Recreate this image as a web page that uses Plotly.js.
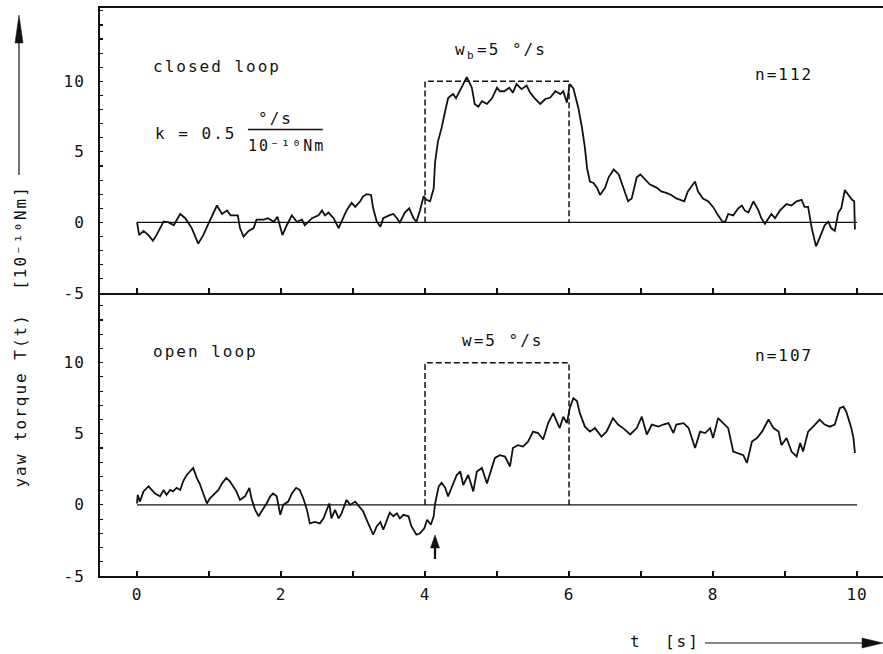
<!DOCTYPE html>
<html>
<head>
<meta charset="utf-8">
<script src="https://cdn.plot.ly/plotly-3.0.1.min.js"></script>
<style>
  html, body { margin: 0; padding: 0; background: #fff; }
  #chart { width: 883px; height: 654px; }
  .annotation-text { letter-spacing: 2px; }
  .xtick text, .ytick text, .x2tick text, .y2tick text { letter-spacing: 1px; }
</style>
</head>
<body>
<div id="chart"></div>
<script>
// ---- data ----
const tClosed = [
  0, 0.03, 0.09, 0.16, 0.22, 0.27, 0.37, 0.44, 0.51, 0.6,
  0.67, 0.76, 0.85, 0.92, 1.0, 1.11, 1.18, 1.25, 1.3, 1.4,
  1.43, 1.48, 1.55, 1.62, 1.66, 1.76, 1.82, 1.9, 1.95, 2.02,
  2.08, 2.15, 2.22, 2.29, 2.33, 2.43, 2.52, 2.57, 2.61, 2.66,
  2.73, 2.8, 2.84, 2.91, 2.98, 3.03, 3.1, 3.14, 3.19, 3.25,
  3.28, 3.33, 3.38, 3.42, 3.5, 3.56, 3.61, 3.65, 3.72, 3.78,
  3.84, 3.88, 3.93, 3.98, 4.02, 4.07, 4.12, 4.14, 4.18, 4.23,
  4.28, 4.32, 4.35, 4.39, 4.43, 4.51, 4.58, 4.65, 4.69, 4.74,
  4.79, 4.86, 4.93, 5.0, 5.04, 5.1, 5.17, 5.22, 5.27, 5.34,
  5.41, 5.46, 5.53, 5.6, 5.67, 5.74, 5.81, 5.88, 5.92, 5.97,
  6.01, 6.06, 6.13, 6.18, 6.22, 6.25, 6.29, 6.34, 6.39, 6.43,
  6.5, 6.55, 6.62, 6.69, 6.76, 6.82, 6.87, 6.94, 6.99, 7.03,
  7.12, 7.22, 7.28, 7.35, 7.42, 7.49, 7.56, 7.6, 7.65, 7.75,
  7.79, 7.86, 7.93, 8.0, 8.07, 8.13, 8.17, 8.21, 8.28, 8.35,
  8.4, 8.44, 8.49, 8.56, 8.63, 8.67, 8.72, 8.77, 8.81, 8.86,
  8.93, 9.02, 9.09, 9.16, 9.23, 9.27, 9.32, 9.37, 9.43, 9.48,
  9.55, 9.6, 9.64, 9.69, 9.74, 9.78, 9.83, 9.88, 9.93, 9.96, 9.97
];
const vClosed = [
  0, -0.9, -0.6, -0.9, -1.3, -0.9, 0.07, 0, -0.2, 0.6,
  0.3, -0.4, -1.5, -0.9, 0, 1.2, 0.6, 0.85, 0.5, 0.5,
  -0.4, -1.0, -0.6, -0.4, 0.2, 0.2, 0.3, 0.05, 0.4, -0.9,
  -0.2, 0.5, 0.05, 0.2, -0.2, 0.3, 0.5, 0.85, 0.5, 0.7,
  0.3, -0.4, 0.05, 0.85, 1.4, 1.1, 1.5, 1.85, 2.0, 1.95,
  1.0, 0.05, -0.3, 0.3, 0.5, 0.6, 0.3, 0, 0.7, 1.0,
  0.3, 0.05, 0.85, 1.85, 1.6, 1.5, 2.4, 4.3, 5.75, 6.7,
  7.9, 8.8, 8.95, 9.1, 8.8, 9.55, 10.3, 9.55, 8.4, 8.2,
  8.6, 8.4, 8.8, 9.55, 9.3, 9.3, 9.55, 9.2, 9.8, 9.45,
  9.7, 9.2, 8.75, 8.4, 8.75, 8.85, 9.3, 9.1, 9.3, 8.5,
  9.8, 9.5, 8.1, 6.7, 5.3, 3.85, 2.9, 2.8, 2.45, 1.95,
  2.45, 3.2, 3.75, 3.4, 2.45, 1.5, 1.7, 3.2, 3.4, 3.2,
  2.7, 2.45, 2.2, 2.1, 1.95, 1.7, 1.6, 1.5, 2.2, 2.9,
  2.2, 1.7, 1.5, 1.1, 0.5, 0.05, 0.05, 0.6, 0.5, 1.0,
  1.2, 0.85, 0.7, 1.5, 0.85, 0.3, -0.1, 0.3, 0.6, 0.3,
  0.85, 1.3, 1.2, 1.5, 1.6, 1.1, 1.1, -0.4, -1.7, -1.1,
  -0.2, 0.05, -0.4, -0.6, 0.7, 1.0, 2.3, 1.95, 1.6, 1.5, -0.5
];
const tOpen = [
  0, 0.01, 0.04, 0.09, 0.16, 0.2, 0.25, 0.32, 0.37, 0.41,
  0.46, 0.5, 0.55, 0.6, 0.64, 0.69, 0.74, 0.78, 0.83, 0.87,
  0.92, 0.97, 1.01, 1.08, 1.13, 1.18, 1.24, 1.29, 1.34, 1.38,
  1.43, 1.5, 1.56, 1.59, 1.64, 1.69, 1.73, 1.8, 1.85, 1.89,
  1.94, 1.99, 2.03, 2.1, 2.15, 2.21, 2.26, 2.31, 2.36, 2.4,
  2.47, 2.54, 2.59, 2.63, 2.67, 2.7, 2.75, 2.8, 2.84, 2.91,
  2.96, 3.03, 3.07, 3.14, 3.19, 3.24, 3.28, 3.33, 3.38, 3.42,
  3.47, 3.51, 3.56, 3.61, 3.65, 3.7, 3.77, 3.81, 3.88, 3.93,
  3.99, 4.03, 4.08, 4.12, 4.14, 4.19, 4.23, 4.28, 4.32, 4.37,
  4.44, 4.49, 4.53, 4.6, 4.67, 4.72, 4.79, 4.86, 4.9, 4.97,
  5.04, 5.11, 5.18, 5.22, 5.29, 5.36, 5.43, 5.5, 5.57, 5.64,
  5.71, 5.78, 5.83, 5.87, 5.92, 5.97, 6.01, 6.06, 6.11, 6.15,
  6.22, 6.29, 6.36, 6.45, 6.52, 6.61, 6.68, 6.75, 6.85, 6.94,
  7.01, 7.08, 7.15, 7.24, 7.31, 7.38, 7.45, 7.49, 7.59, 7.66,
  7.75, 7.82, 7.89, 7.96, 8.0, 8.07, 8.14, 8.21, 8.28, 8.35,
  8.42, 8.47, 8.54, 8.61, 8.68, 8.77, 8.84, 8.91, 8.95, 9.02,
  9.09, 9.16, 9.21, 9.25, 9.32, 9.39, 9.48, 9.55, 9.62, 9.69,
  9.76, 9.81, 9.85, 9.92, 9.95, 9.97
];
const vOpen = [
  0.1, 0.7, 0.23, 0.95, 1.3, 1.05, 0.8, 0.6, 1.05, 0.7,
  1.05, 0.95, 1.2, 1.05, 1.65, 2.1, 2.35, 2.6, 1.9, 1.5,
  0.8, 0.1, 0.45, 0.8, 1.05, 1.5, 1.9, 1.65, 1.3, 0.95,
  0.35, 0.6, 1.2, 0.45, -0.35, -0.8, -0.45, 0.1, 0.6, 0.8,
  0.6, -0.7, 0, 0.23, 0.8, 1.2, 1.05, 0.45, -0.35, -1.3,
  -1.2, -1.3, -0.95, -0.35, 0.1, -0.95, -0.35, -0.95, -0.6, 0.35,
  0, 0.23, 0, -0.45, -1.05, -1.65, -2.1, -1.5, -1.2, -1.75,
  -1.05, -0.55, -0.8, -0.6, -0.95, -0.7, -0.8, -1.5, -2.1, -2.0,
  -1.65, -1.05, -1.4, -0.8, 0.1, 1.3, 1.55, 1.2, 0.6, 1.2,
  2.1, 2.35, 1.4, 2.1, 0.95, 2.35, 2.6, 1.5, 2.1, 3.3,
  3.5, 3.4, 2.7, 4.0, 4.2, 4.1, 4.45, 5.15, 5.05, 4.6,
  5.75, 6.45, 5.85, 5.4, 6.2, 5.75, 6.8, 7.5, 7.3, 6.45,
  5.5, 5.15, 5.4, 4.8, 5.15, 6.1, 5.65, 5.4, 4.95, 5.4,
  6.2, 4.95, 5.65, 5.5, 5.65, 5.75, 5.05, 5.65, 5.75, 5.4,
  4.0, 5.15, 5.05, 5.4, 4.7, 6.1, 5.75, 5.4, 3.75, 3.65,
  3.5, 2.95, 4.45, 4.7, 5.15, 6.0, 5.4, 5.15, 4.2, 4.7,
  3.75, 3.4, 4.35, 3.75, 5.15, 5.5, 6.0, 5.65, 5.5, 5.65,
  6.8, 6.9, 6.55, 5.4, 4.7, 3.65
];
// stimulus window (dashed box) and base line
const stimT = [4, 4, 6, 6];
const stimV = [0, 10, 10, 0];
const zeroT = [0, 10];
const zeroV = [0, 0];
// ticks
const xTickVals = [0, 2, 4, 6, 8, 10];
const xTickText = ['0', '2', '4', '6', '8', '10'];
const yTickVals = [-5, 0, 5, 10];
const yTickText = ['-5', '0', '5', '10'];

// ---- chart ----
const INK = '#111111';
const FONT = 'DejaVu Sans Mono, Liberation Mono, monospace';

function lineTrace(x, y, xa, ya, width, dash) {
  return { type: 'scatter', mode: 'lines', x: x, y: y, xaxis: xa, yaxis: ya,
           line: { color: INK, width: width, dash: dash || 'solid' },
           hoverinfo: 'skip', showlegend: false };
}

const data = [
  lineTrace(zeroT, zeroV, 'x', 'y', 1.2),
  lineTrace(stimT, stimV, 'x', 'y', 1.5, '6px,3px'),
  lineTrace(tClosed, vClosed, 'x', 'y', 1.8),
  lineTrace(zeroT, zeroV, 'x2', 'y2', 1.2),
  lineTrace(stimT, stimV, 'x2', 'y2', 1.5, '6px,3px'),
  lineTrace(tOpen, vOpen, 'x2', 'y2', 1.8)
];

const xBase = {
  range: [-0.514, 10.36], showgrid: false, zeroline: false,
  showline: true, linecolor: INK, linewidth: 2,
  ticks: 'inside', ticklen: 5, tickwidth: 1.5, tickcolor: INK,
  tickmode: 'array', tickvals: xTickVals, ticktext: xTickText,
  minor: { ticks: 'inside', dtick: 1, tick0: 0, ticklen: 5, tickwidth: 1.5, tickcolor: INK, showgrid: false },
  tickfont: { family: FONT, size: 16, color: INK }, ticklabelstandoff: 3,
  fixedrange: true
};
const yBase = {
  showgrid: false, zeroline: false,
  showline: true, linecolor: INK, linewidth: 2,
  ticks: 'inside', ticklen: 3, tickwidth: 1.2, tickcolor: INK,
  tickmode: 'array', tickvals: yTickVals, ticktext: yTickText,
  minor: { ticks: 'inside', dtick: 1, tick0: 0, ticklen: 3, tickwidth: 1.2, tickcolor: INK, showgrid: false },
  tickfont: { family: FONT, size: 16, color: INK }, ticklabelstandoff: 10,
  fixedrange: true
};

const split = 0.4983;
const ann = (o) => Object.assign({ showarrow: false, font: { family: FONT, size: 16, color: INK },
                                   xanchor: 'left', yanchor: 'middle' }, o);

// pixel -> paper helpers for the decorative arrows
const PX = (px) => (px - 100) / 783;
const PY = (py) => (576 - py) / 568;
const tri = (x1, y1, x2, y2, x3, y3) =>
  'M' + PX(x1) + ',' + PY(y1) + ' L' + PX(x2) + ',' + PY(y2) + ' L' + PX(x3) + ',' + PY(y3) + ' Z';

const layout = {
  width: 883, height: 654,
  margin: { l: 100, r: 0, t: 8, b: 78 },
  paper_bgcolor: '#ffffff', plot_bgcolor: '#ffffff',
  showlegend: false,
  font: { family: FONT, size: 16, color: INK },
  xaxis: Object.assign({}, xBase, { anchor: 'y', mirror: true, showticklabels: false }),
  xaxis2: Object.assign({}, xBase, { anchor: 'y2', showticklabels: true }),
  yaxis: Object.assign({}, yBase, { domain: [split, 1], range: [-5, 15.2], anchor: 'x' }),
  yaxis2: Object.assign({}, yBase, { domain: [0, split], range: [-5, 14.9], anchor: 'x2' }),
  shapes: [
    // fraction bar of the gain k
    { type: 'line', xref: 'x', yref: 'y', x0: 1.54, x1: 2.58, y0: 6.59, y1: 6.59,
      line: { color: INK, width: 1.5 } },
    // y-title arrow
    { type: 'line', xref: 'paper', yref: 'paper', x0: PX(19), x1: PX(19), y0: PY(175), y1: PY(38),
      line: { color: INK, width: 1.2 } },
    { type: 'path', xref: 'paper', yref: 'paper', path: tri(19, 15, 15, 43, 23, 43),
      fillcolor: INK, line: { color: INK, width: 0.5 } },
    // x-title arrow
    { type: 'line', xref: 'paper', yref: 'paper', x0: PX(705), x1: PX(866), y0: PY(643), y1: PY(643),
      line: { color: INK, width: 1.2 } },
    { type: 'path', xref: 'paper', yref: 'paper', path: tri(883, 643, 862, 638, 862, 648),
      fillcolor: INK, line: { color: INK, width: 0.5 } },
    // stimulus-onset marker arrow (open loop)
    { type: 'line', xref: 'paper', yref: 'paper', x0: PX(435), x1: PX(435), y0: PY(559), y1: PY(546),
      line: { color: INK, width: 2.2 } },
    { type: 'path', xref: 'paper', yref: 'paper', path: tri(435, 535, 430.5, 548, 439.5, 548),
      fillcolor: INK, line: { color: INK, width: 0.5 } }
  ],
  annotations: [
    ann({ xref: 'x', yref: 'y', x: 0.19, y: 11.04, text: 'closed\u00a0loop' }),
    ann({ xref: 'x', yref: 'y', x: 0.218, y: 6.33, text: 'k = 0.5' }),
    ann({ xref: 'x', yref: 'y', x: 1.93, y: 7.34, xanchor: 'center', text: '°/s' }),
    ann({ xref: 'x', yref: 'y', x: 2.07, y: 5.4, xanchor: 'center', text: '10\u207b\u00b9\u2070Nm',
          font: { family: FONT, size: 15, color: INK } }),
    ann({ xref: 'x', yref: 'y', x: 4.385, y: 12.27, text: 'w' }),
    ann({ xref: 'x', yref: 'y', x: 4.56, y: 11.85, text: 'b', font: { family: FONT, size: 11, color: INK } }),
    ann({ xref: 'x', yref: 'y', x: 4.69, y: 12.27, text: '=5 °/s' }),
    ann({ xref: 'x', yref: 'y', x: 8.56, y: 10.5, text: 'n=112' }),
    ann({ xref: 'x2', yref: 'y2', x: 0.19, y: 10.8, text: 'open\u00a0loop' }),
    ann({ xref: 'x2', yref: 'y2', x: 4.486, y: 11.55, text: 'w=5 °/s' }),
    ann({ xref: 'x2', yref: 'y2', x: 8.56, y: 10.5, text: 'n=107' }),
    // axis titles
    ann({ xref: 'paper', yref: 'paper', x: -0.102, y: 0.4217, xanchor: 'center', yanchor: 'middle',
          textangle: -90, text: 'yaw torque T(t)\u00a0\u00a0[10\u207b\u00b9\u2070Nm]' }),
    ann({ xref: 'paper', yref: 'paper', x: 0.6743, y: -0.1157, text: 't\u00a0\u00a0[s]' })
  ]
};

Plotly.newPlot('chart', data, layout, { displayModeBar: false, staticPlot: true });
</script>
</body>
</html>
